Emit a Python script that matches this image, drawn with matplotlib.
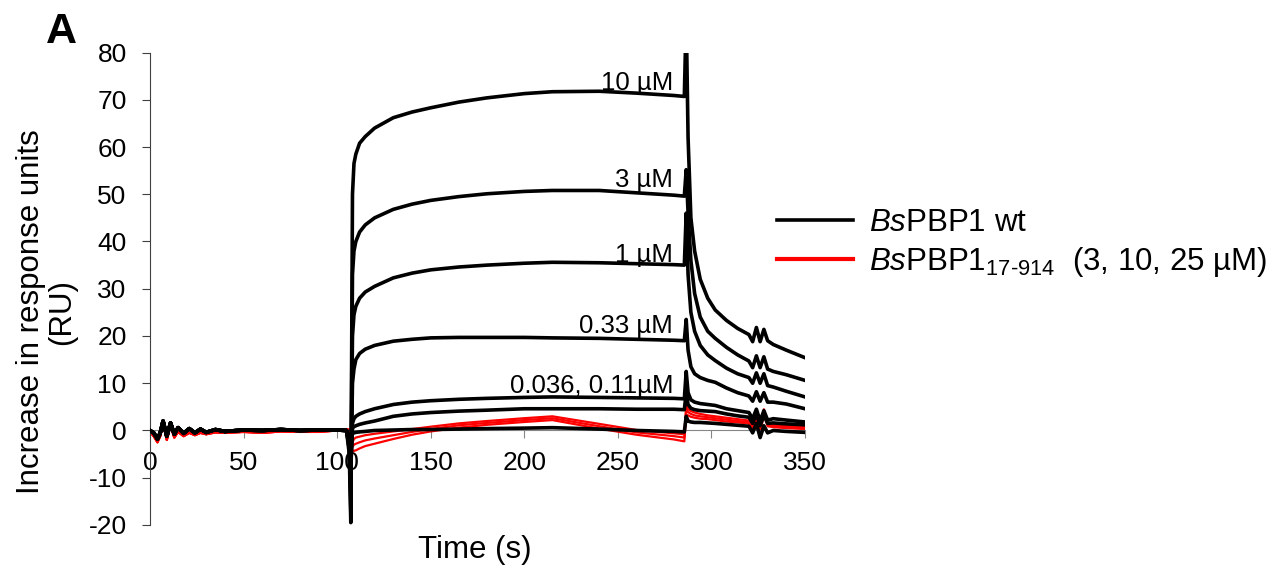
import matplotlib.pyplot as plt
from matplotlib.lines import Line2D

plt.rcParams['font.family'] = ['Liberation Sans', 'DejaVu Sans']
plt.rcParams['mathtext.fontset'] = 'custom'
plt.rcParams['mathtext.rm'] = 'Liberation Sans'
plt.rcParams['mathtext.it'] = 'Liberation Sans:italic'
plt.rcParams['axes.unicode_minus'] = False

# time points (s)
pre_t = [0, 2, 4, 5.5, 7, 9, 11, 13, 15, 18, 21, 24, 27, 30, 35, 40, 50, 60,
         70, 80, 90, 100, 105]
post_t = [106.5, 107.3, 108.2, 109, 110, 112, 115, 120, 130, 140, 150, 165,
          180, 200, 215, 240, 260, 280, 285.5, 286.5, 287.5, 289, 291, 294,
          298, 302, 308, 314, 320, 322, 324, 326, 328, 330, 333, 340, 350]

# baseline before injection
pre_black = [0, -0.5, -1.8, -0.5, 2.0, -1.2, 1.6, -0.8, 0.6, -0.6, 0.4, -0.5,
             0.3, -0.4, 0.2, -0.2, 0.1, 0, 0.2, 0, 0.1, 0.1, 0]
pre_red = [-0.3, -1.2, -2.5, -1.2, 1.5, -2.0, 1.0, -1.5, -0.3, -1.2, -0.5,
           -1.0, -0.5, -0.8, -0.4, -0.5, -0.3, -0.5, -0.2, -0.3, -0.3, 0, 0.3]

# BsPBP1 wt, after injection (RU)
wt_10 = [-5, -19.5, 50, 56.5, 58.5, 60.8, 62.2, 64, 66.2, 67.4, 68.3, 69.5,
         70.4, 71.3, 71.7, 71.8, 71.4, 70.9, 70.7, 88, 62, 45, 38, 32, 28,
         25.5, 23.3, 21.6, 20.3, 18.8, 21.8, 18.8, 21.4, 19, 18.2, 17, 15.4]
wt_3 = [-4, -17, 33, 38, 40, 42, 43.5, 45, 46.8, 47.9, 48.7, 49.5, 50.1,
        50.6, 50.8, 50.8, 50.3, 49.8, 49.6, 55.2, 46, 36, 29, 24, 21, 19.5,
        17.6, 16, 14.7, 13.3, 15.8, 13.3, 15.6, 13, 12.5, 11.8, 10.6]
wt_1 = [-3.5, -14, 20, 24.5, 26.3, 28, 29.3, 30.5, 32.3, 33.3, 34, 34.6, 35,
        35.4, 35.6, 35.5, 35.3, 35.1, 35, 46, 33, 25, 21, 18, 16, 14.8, 13.2,
        12, 11.2, 10, 12.2, 10, 12, 9.5, 9.2, 8.3, 7.1]
wt_033 = [-3, -11, 10, 13, 15, 16.3, 17.2, 18, 18.9, 19.3, 19.6, 19.7, 19.7,
          19.7, 19.6, 19.5, 19.3, 19.1, 19, 23.5, 17, 13.5, 12, 11.2, 10.6,
          10.2, 9, 8, 7.3, 6.2, 8.2, 6.2, 8, 6, 6, 5.6, 4.6]
wt_011 = [-2.5, -8, 1.5, 2.5, 3, 3.5, 4, 4.6, 5.5, 6, 6.3, 6.6, 6.8, 7.0, 7.1,
          7.0, 6.9, 6.8, 6.7, 12.5, 8, 6.5, 6, 5.7, 5.5, 5.3, 4.6, 4.2, 3.8,
          2.5, 4.5, 2, 4.2, 2.2, 2.5, 2.2, 1.8]
wt_0036 = [-2, -6, 0.5, 0.8, 1.0, 1.3, 1.6, 2.0, 3.0, 3.5, 3.8, 4.1, 4.3, 4.6,
           4.6, 4.6, 4.5, 4.5, 4.4, 8, 5.5, 4.7, 4.4, 4.2, 4.1, 4.0, 3.5, 3.1,
           2.8, 1.5, 3.5, 1, 3.2, 1.5, 1.6, 1.4, 1.2]
wt_blank = [-1.5, -4, -0.5, -0.5, -0.4, -0.3, -0.2, 0, 0.1, 0.2, 0.2, 0.3,
            0.4, 0.5, 0.6, 0.3, 0, -0.2, -0.3, 3, 2, 1.8, 1.7, 1.7, 1.6, 1.5,
            1.3, 1.1, 0.9, -0.5, 1.5, -1.5, 1.0, -0.5, 0, -0.2, -0.4]

# BsPBP1 17-914 at 3, 10, 25 uM
trunc_a = [0.2, -1, -2.5, -1.8, -1.5, -1.3, -1.0, -0.7, -0.2, 0.3, 0.8, 1.5,
           2.0, 2.6, 3.0, 1.4, 0.1, -0.6, -0.8, 5.2, 4.5, 4.1, 3.8, 3.5, 3.2,
           3.0, 2.7, 2.4, 2.1, 0.5, 2.8, 0.2, 4.5, 1.5, 1.3, 1.1, 0.9]
trunc_b = [0, -1.5, -3.5, -3.0, -2.8, -2.5, -2.1, -1.7, -1.0, -0.3, 0.3, 1.1,
           1.6, 2.2, 2.6, 0.9, -0.4, -1.2, -1.5, 4.3, 3.9, 3.5, 3.2, 3.0, 2.8,
           2.6, 2.3, 2.0, 1.8, 0, 2.4, -0.3, 4.0, 1.2, 1.0, 0.8, 0.6]
trunc_c = [-0.2, -2, -4.5, -4.3, -4.2, -3.8, -3.3, -2.8, -1.8, -0.9, -0.2,
           0.6, 1.2, 1.8, 2.2, 0.4, -0.9, -1.9, -2.3, 3.4, 3.2, 2.9, 2.7, 2.5,
           2.4, 2.2, 1.9, 1.7, 1.5, -0.5, 2, -0.7, 3.5, 0.9, 0.7, 0.5, 0.3]

wt_curves = [wt_blank, wt_0036, wt_011, wt_033, wt_1, wt_3, wt_10]
trunc_curves = [trunc_a, trunc_b, trunc_c]

conc_labels = ['10 µM', '3 µM', '1 µM', '0.33 µM', '0.036, 0.11µM']
label_y = [72.1, 51.6, 35.7, 20.7, 8.0]
label_t = 279.5

legend_labels = [r'$\mathit{Bs}$PBP1 wt',
                 r'$\mathit{Bs}$PBP1$_{\mathrm{17‐914}}$  (3, 10, 25 µM)']

fig = plt.figure(figsize=(12.85, 5.72), dpi=100)
ax = fig.add_axes([0.1167, 0.0822, 0.5098, 0.826])

t_all = pre_t + post_t
for vals in trunc_curves:
    ax.plot(t_all, pre_red + vals, color='#ff0000', lw=1.6, zorder=2)
for vals in wt_curves:
    ax.plot(t_all, pre_black + vals, color='black', lw=2.6, zorder=3,
            solid_joinstyle='round')

for txt, y in zip(conc_labels, label_y):
    ax.text(label_t, y, txt, ha='right', va='baseline', fontsize=18.5)

ax.set_xlim(0, 350)
ax.set_ylim(-20, 80)
ax.set_xticks(range(0, 351, 50))
ax.set_yticks(range(-20, 81, 10))
ax.spines['top'].set_visible(False)
ax.spines['right'].set_visible(False)
ax.spines['bottom'].set_position(('data', 0))
ax.spines['bottom'].set_color('#868686')
ax.spines['left'].set_color('#404040')
ax.tick_params(axis='x', colors='#868686', labelcolor='black', length=5.5,
               labelsize=19, pad=9)
ax.tick_params(axis='y', colors='#404040', labelcolor='black', length=5.8,
               labelsize=19, pad=11)

fig.text(0.3697, 0.012, 'Time (s)', ha='center', va='bottom', fontsize=22.5)
fig.text(0.0366, 0.455, 'Increase in response units\n(RU)', ha='center',
         va='center', rotation=90, fontsize=22.5, linespacing=1.05)
fig.text(0.036, 0.925, 'A', fontsize=31, fontweight='bold')

handles = [Line2D([], [], color='black', lw=2.6),
           Line2D([], [], color='#ff0000', lw=3)]
fig.legend(handles, legend_labels, loc='center left',
           bbox_to_anchor=(0.5825, 0.575), frameon=False, fontsize=22.5,
           handlelength=2.45, handletextpad=0.5, labelspacing=0.22)

fig.savefig('out.png', dpi=100)
